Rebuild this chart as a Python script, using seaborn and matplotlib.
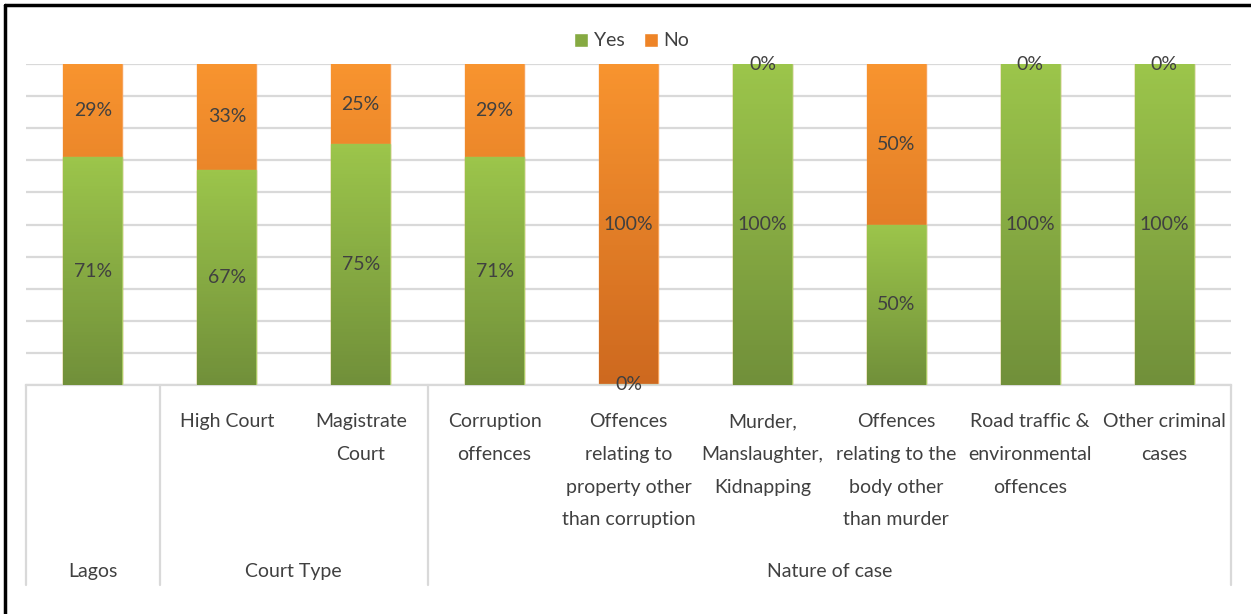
import numpy as np
import pandas as pd
import seaborn as sns
import matplotlib.pyplot as plt
from matplotlib.patches import Patch
from matplotlib.lines import Line2D
from matplotlib.colors import LinearSegmentedColormap

# chart data
categories = ["Lagos", "High Court", "Magistrate\nCourt", "Corruption\noffences",
              "Offences\nrelating to\nproperty other\nthan corruption",
              "Murder,\nManslaughter,\nKidnapping",
              "Offences\nrelating to the\nbody other\nthan murder",
              "Road traffic &\nenvironmental\noffences", "Other criminal\ncases"]
groups = ["", "Court Type", "Court Type", "Nature of case", "Nature of case",
          "Nature of case", "Nature of case", "Nature of case", "Nature of case"]
group_names = ["Lagos", "Court Type", "Nature of case"]
yes = [71, 67, 75, 71, 0, 100, 50, 100, 100]
no = [29, 33, 25, 29, 100, 0, 50, 0, 0]

df = pd.DataFrame({"cat": categories, "yes": yes, "no": no})
df["total"] = df["yes"] + df["no"]

green_top, green_bot = "#9CC54B", "#71903A"
orange_top, orange_bot = "#F8942F", "#CE691F"
txt = "#404040"

sns.set_style("white")
plt.rcParams["font.family"] = ["Lato", "DejaVu Sans"]

fig = plt.figure(figsize=(12.51, 6.14), dpi=100)
ax = fig.add_axes([26 / 1251, 229 / 614, 1205 / 1251, 321 / 614])

sns.barplot(data=df, x="cat", y="total", color=orange_top, width=0.44,
            edgecolor="#F6A25A", linewidth=1, ax=ax, zorder=2)
n_no = len(ax.patches)
sns.barplot(data=df, x="cat", y="yes", color=green_top, width=0.44,
            edgecolor="#A8CB66", linewidth=1, ax=ax, zorder=4)


def shade(patch, c_top, c_bot, z):
    x0, y0 = patch.get_x(), patch.get_y()
    w, h = patch.get_width(), patch.get_height()
    if h <= 0:
        return
    cmap = LinearSegmentedColormap.from_list("g", [c_bot, c_top])
    grad = np.linspace(0, 1, 64).reshape(-1, 1)
    im = ax.imshow(grad, cmap=cmap, origin="lower", aspect="auto",
                   extent=(x0, x0 + w, y0, y0 + h), zorder=z)
    im.set_clip_path(patch)


for i, p in enumerate(ax.patches):
    if i < n_no:
        shade(p, orange_top, orange_bot, 2.5)
    else:
        shade(p, green_top, green_bot, 4.5)

ax.set_xlim(-0.5, len(categories) - 0.5)
ax.set_ylim(0, 100)
ax.set_yticks(np.arange(0, 101, 10))
ax.yaxis.grid(True, color="#D9D9D9", linewidth=1.6)
ax.set_axisbelow(True)
ax.set_yticklabels([])
ax.tick_params(left=False, bottom=False)
ax.set_xticks([])
ax.set_xlabel("")
ax.set_ylabel("")
for s in ["left", "right", "top"]:
    ax.spines[s].set_visible(False)
ax.spines["bottom"].set_color("#D9D9D9")
ax.spines["bottom"].set_linewidth(1.6)

# data labels
for i in range(len(categories)):
    ax.text(i, yes[i] / 2, f"{yes[i]}%", ha="center", va="center",
            fontsize=14, color=txt, zorder=6)
    ax.text(i, yes[i] + no[i] / 2, f"{no[i]}%", ha="center", va="center",
            fontsize=14, color=txt, zorder=6)

# multi-level category axis
tr = ax.get_xaxis_transform()
for i, c in enumerate(categories):
    if groups[i] == "":
        continue
    ax.text(i, -0.087, c, transform=tr, ha="center", va="top", fontsize=14,
            color=txt, linespacing=2.13, clip_on=False)

bounds = [-0.5]
centers = []
for g in group_names:
    idx = [i for i in range(len(categories))
           if groups[i] == g or (g == "Lagos" and groups[i] == "")]
    centers.append((min(idx) + max(idx)) / 2)
    bounds.append(max(idx) + 0.5)
for g, cx in zip(group_names, centers):
    ax.text(cx, -0.58, g, transform=tr, ha="center", va="center",
            fontsize=14, color=txt, clip_on=False)
for b in bounds:
    ax.plot([b, b], [0, -0.623], transform=tr, color="#D9D9D9",
            linewidth=1.6, clip_on=False)

handles = [Patch(facecolor="#86AA42", label="Yes"),
           Patch(facecolor="#EE8427", label="No")]
fig.legend(handles=handles, loc="center", bbox_to_anchor=(0.505, 1 - 41 / 614),
           ncol=2, frameon=False, fontsize=14, handlelength=0.7,
           handleheight=0.7, handletextpad=0.3, columnspacing=1.0,
           labelcolor=txt)

# frame around the picture
fig.add_artist(Line2D([5 / 1251, 1], [1 - 5 / 614, 1 - 5 / 614],
                      transform=fig.transFigure, color="black", linewidth=2.5))
fig.add_artist(Line2D([5 / 1251, 5 / 1251], [0, 1 - 5 / 614],
                      transform=fig.transFigure, color="black", linewidth=2.5))

fig.savefig("out.png", dpi=100)
